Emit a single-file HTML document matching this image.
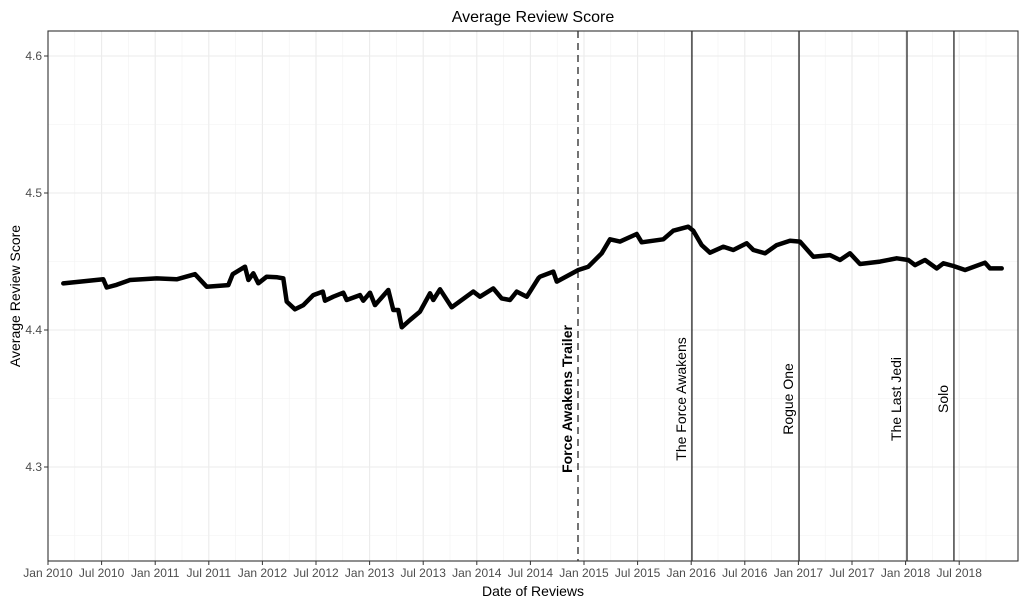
<!DOCTYPE html>
<html><head><meta charset="utf-8"><style>
body{margin:0;background:#fff}
svg{font-family:"Liberation Sans",Arial,sans-serif}
</style></head><body>
<svg id="chart" width="1027" height="606" viewBox="0 0 1027 606" xmlns="http://www.w3.org/2000/svg"></svg>
<script>
const dates=[2010.143,2010.516,2010.548,2010.641,2010.765,2011.014,2011.201,2011.371,2011.480,2011.682,2011.723,2011.838,2011.869,2011.915,2011.962,2012.040,2012.139,2012.195,2012.227,2012.304,2012.382,2012.475,2012.563,2012.584,2012.661,2012.755,2012.786,2012.910,2012.941,2013.004,2013.050,2013.174,2013.221,2013.268,2013.300,2013.377,2013.470,2013.563,2013.594,2013.657,2013.766,2013.967,2014.030,2014.154,2014.232,2014.310,2014.372,2014.466,2014.574,2014.590,2014.714,2014.746,2014.947,2015.040,2015.165,2015.243,2015.336,2015.492,2015.538,2015.740,2015.833,2015.973,2016.020,2016.098,2016.175,2016.300,2016.393,2016.518,2016.580,2016.689,2016.798,2016.922,2017.015,2017.139,2017.295,2017.388,2017.481,2017.575,2017.761,2017.917,2018.025,2018.088,2018.181,2018.290,2018.353,2018.446,2018.555,2018.741,2018.787,2018.896];
const scores=[4.434,4.437,4.431,4.433,4.4365,4.4377,4.437,4.4407,4.4316,4.4328,4.4407,4.4462,4.4365,4.4414,4.4341,4.4389,4.4385,4.4377,4.4207,4.4151,4.4182,4.4255,4.428,4.4214,4.4243,4.4272,4.4219,4.4255,4.4214,4.4272,4.4182,4.4292,4.4146,4.4146,4.402,4.4073,4.4134,4.4268,4.4219,4.4297,4.4166,4.428,4.4243,4.4304,4.4231,4.4219,4.428,4.4243,4.4377,4.4389,4.4426,4.4353,4.4438,4.4462,4.456,4.4662,4.4645,4.4701,4.464,4.4662,4.4725,4.4754,4.4725,4.462,4.4564,4.4608,4.4584,4.4633,4.4584,4.456,4.462,4.4652,4.4645,4.4535,4.4547,4.4511,4.456,4.4482,4.4499,4.4523,4.4511,4.4474,4.4511,4.445,4.4487,4.4467,4.4438,4.4491,4.445,4.445];
const eventNames=["Force Awakens Trailer","The Force Awakens","Rogue One","The Last Jedi","Solo"];
const eventDates=[2014.944,2016.007,2017.006,2018.013,2018.451];
const yTicks=[4.3,4.4,4.5,4.6];
const xTickLabels=["Jan 2010","Jul 2010","Jan 2011","Jul 2011","Jan 2012","Jul 2012","Jan 2013","Jul 2013","Jan 2014","Jul 2014","Jan 2015","Jul 2015","Jan 2016","Jul 2016","Jan 2017","Jul 2017","Jan 2018","Jul 2018"];

const L=48,R=1018,T=31,B=561;
const x=d=>48+(d-2010)*107.2;
const y=v=>330-(v-4.4)*1370;
const svg=document.getElementById('chart');
const NS="http://www.w3.org/2000/svg";
function mk(tag,attrs,parent){const e=document.createElementNS(NS,tag);for(const k in attrs)e.setAttribute(k,attrs[k]);(parent||svg).appendChild(e);return e;}

for(let i=0;i<36;i++){const d=2010+i*0.25;const xx=x(d);if(xx<L||xx>R)continue;
 const g=mk('line',{x1:xx,x2:xx,y1:T,y2:B,stroke:i%2?'#f2f2f2':'#ebebeb','stroke-width':i%2?0.6:1.1});
 }
for(let v=4.25;v<4.62;v+=0.05){const yy=y(v);
 const major=Math.abs(Math.round(v*10)-v*10)<0.01;
 const g=mk('line',{x1:L,x2:R,y1:yy,y2:yy,stroke:major?'#ebebeb':'#f2f2f2','stroke-width':major?1.1:0.6});
 }

eventDates.forEach((d,i)=>{const xx=x(d);
 const l=mk('line',{x1:xx,x2:xx,y1:T,y2:B,stroke:'#000','stroke-width':1.1});
 if(i===0)l.setAttribute('stroke-dasharray','7,5');
 
 const t=mk('text',{x:0,y:0,transform:`translate(${xx-6},399) rotate(-90)`,'text-anchor':'middle','font-size':14,fill:'#000'});
 if(i===0){t.setAttribute('font-weight','bold');}
 t.textContent=eventNames[i];
 });

let dstr='';dates.forEach((d,i)=>{dstr+=(i?'L':'M')+x(d).toFixed(1)+','+y(scores[i]).toFixed(1);});
const p=mk('path',{d:dstr,fill:'none',stroke:'#000','stroke-width':4.5,'stroke-linejoin':'round','stroke-linecap':'round'});


const b=mk('rect',{x:L,y:T,width:R-L,height:B-T,fill:'none',stroke:'#333','stroke-width':1.1});


yTicks.forEach(v=>{const yy=y(v);
 const tk=mk('line',{x1:L-4,x2:L,y1:yy,y2:yy,stroke:'#333'});
 
 const t=mk('text',{x:L-6,y:yy+4,'text-anchor':'end','font-size':12,fill:'#4d4d4d'});t.textContent=v.toFixed(1);
 });
xTickLabels.forEach((lab,i)=>{const xx=x(2010+i*0.5);
 const tk=mk('line',{x1:xx,x2:xx,y1:B,y2:B+4,stroke:'#333'});
 
 const t=mk('text',{x:xx,y:B+16,'text-anchor':'middle','font-size':12,fill:'#4d4d4d'});t.textContent=lab;
 });

const ti=mk('text',{x:533,y:22,'text-anchor':'middle','font-size':16,fill:'#000'});ti.textContent='Average Review Score';

const xt=mk('text',{x:533,y:596,'text-anchor':'middle','font-size':14,fill:'#000'});xt.textContent='Date of Reviews';

const yt=mk('text',{x:0,y:0,transform:'translate(20,296) rotate(-90)','text-anchor':'middle','font-size':14,fill:'#000'});yt.textContent='Average Review Score';

</script>
</body></html>
